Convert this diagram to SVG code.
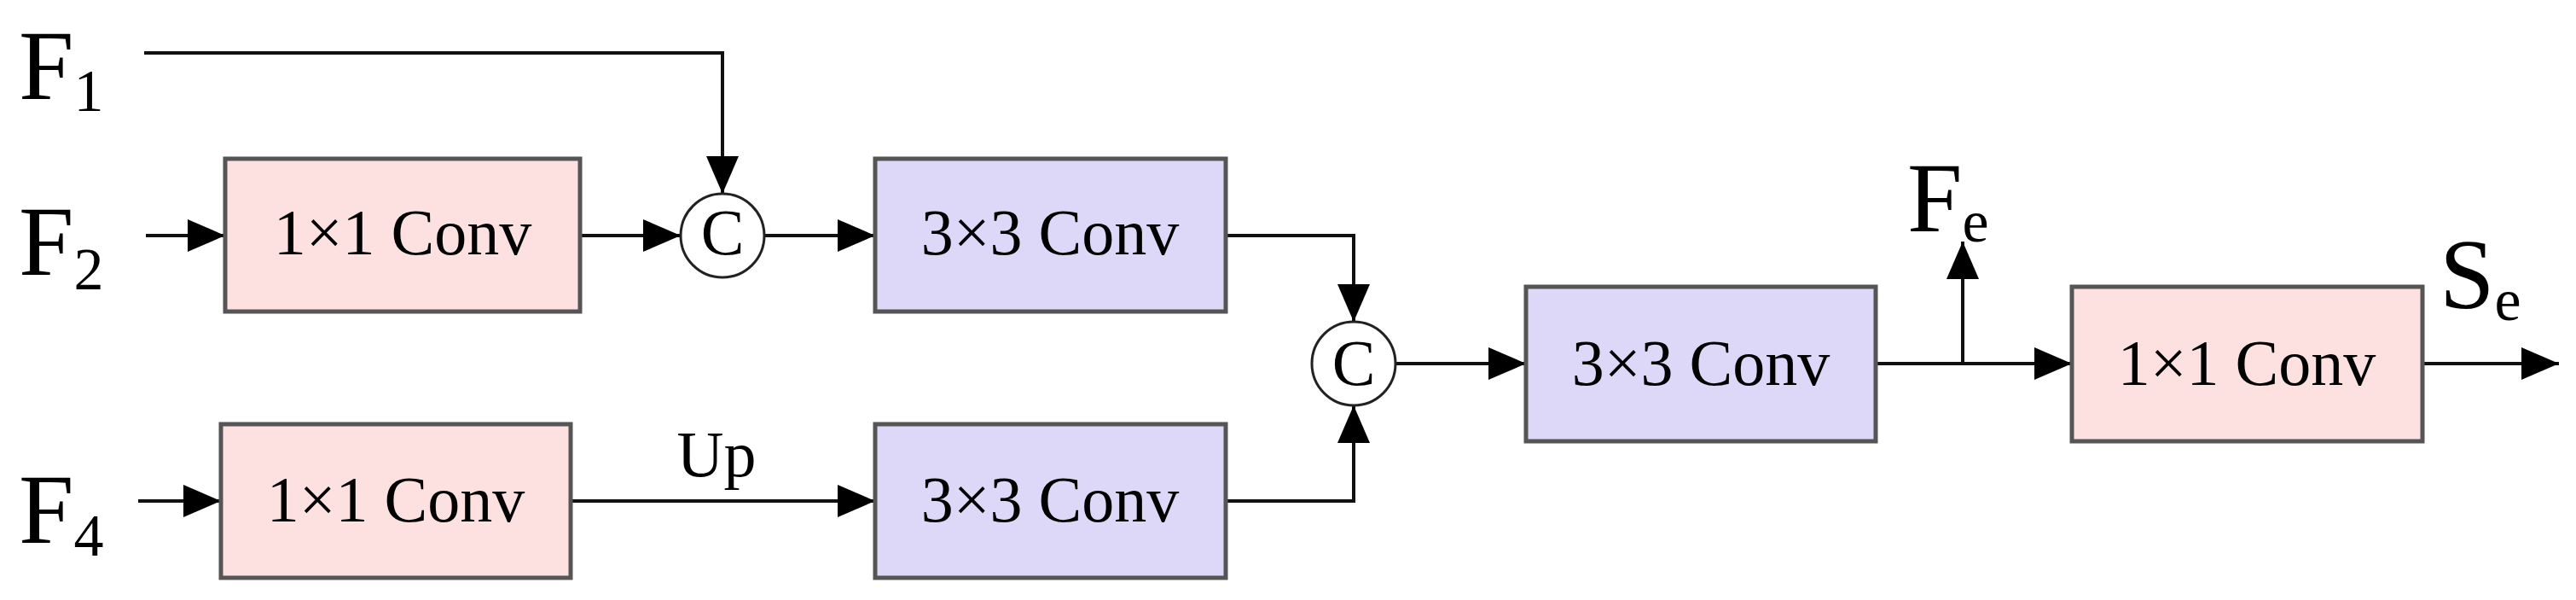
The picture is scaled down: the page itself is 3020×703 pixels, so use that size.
<svg xmlns="http://www.w3.org/2000/svg" width="3020" height="703" viewBox="0 0 3020 703">
<style>
.pink{fill:#fde1e1;stroke:#555;stroke-width:5}
.lav{fill:#ddd8f8;stroke:#555;stroke-width:5}
.circ{fill:#fff;stroke:#222;stroke-width:3}
.t{font-family:"Liberation Serif",serif;font-size:76px;fill:#000;text-anchor:middle}
.big{font-family:"Liberation Serif",serif;font-size:116px;fill:#000}
.sub{font-size:70px}
.ln{fill:none;stroke:#111;stroke-width:4}
</style>
<defs>
<marker id="ah" markerUnits="userSpaceOnUse" markerWidth="44" markerHeight="38" refX="44" refY="19" orient="auto"><path d="M0,0 L44,19 L0,38 z" fill="#000"/></marker>
</defs>
<g id="connectors">
<path class="ln" d="M169,62 H847 V227" marker-end="url(#ah)"/>
<path class="ln" d="M171,276 H264" marker-end="url(#ah)"/>
<path class="ln" d="M680,276 H798" marker-end="url(#ah)"/>
<path class="ln" d="M896,276 H1026" marker-end="url(#ah)"/>
<path class="ln" d="M1437,276 H1587 V377" marker-end="url(#ah)"/>
<path class="ln" d="M162,587 H259" marker-end="url(#ah)"/>
<path class="ln" d="M669,587 H1026" marker-end="url(#ah)"/>
<path class="ln" d="M1437,587 H1587 V475" marker-end="url(#ah)"/>
<path class="ln" d="M1637,426 H1789" marker-end="url(#ah)"/>
<path class="ln" d="M2199,426 H2429" marker-end="url(#ah)"/>
<path class="ln" d="M2301,426 V283" marker-end="url(#ah)"/>
<path class="ln" d="M2840,426 H3000" marker-end="url(#ah)"/>
<text class="t" x="840" y="558">Up</text>
</g>
<g id="F1"><text class="big" x="22" y="116">F<tspan class="sub" dy="14">1</tspan></text></g>
<g id="F2"><text class="big" x="22" y="322">F<tspan class="sub" dy="17">2</tspan></text></g>
<g id="F4"><text class="big" x="22" y="636">F<tspan class="sub" dy="15">4</tspan></text></g>
<g id="conv1"><rect class="pink" x="264" y="186" width="416" height="179"/><text class="t" x="472" y="298">1×1 Conv</text></g>
<g id="cat1"><ellipse class="circ" cx="847" cy="276" rx="49" ry="49"/><text class="t" x="847" y="298">C</text></g>
<g id="conv3a"><rect class="lav" x="1026" y="186" width="411" height="179"/><text class="t" x="1231" y="298">3×3 Conv</text></g>
<g id="conv1b"><rect class="pink" x="259" y="497" width="410" height="180"/><text class="t" x="464" y="611">1×1 Conv</text></g>
<g id="conv3b"><rect class="lav" x="1026" y="497" width="411" height="180"/><text class="t" x="1231" y="611">3×3 Conv</text></g>
<g id="cat2"><ellipse class="circ" cx="1587" cy="426" rx="49" ry="49"/><text class="t" x="1587" y="451">C</text></g>
<g id="conv3c"><rect class="lav" x="1789" y="336" width="410" height="181"/><text class="t" x="1994" y="451">3×3 Conv</text></g>
<g id="conv1c"><rect class="pink" x="2429" y="336" width="411" height="181"/><text class="t" x="2634" y="451">1×1 Conv</text></g>
<g id="Fe"><text class="big" x="2236" y="271">F<tspan class="sub" dy="12">e</tspan></text></g>
<g id="Se"><text class="big" x="2860" y="361">S<tspan class="sub" dy="14">e</tspan></text></g>
</svg>
